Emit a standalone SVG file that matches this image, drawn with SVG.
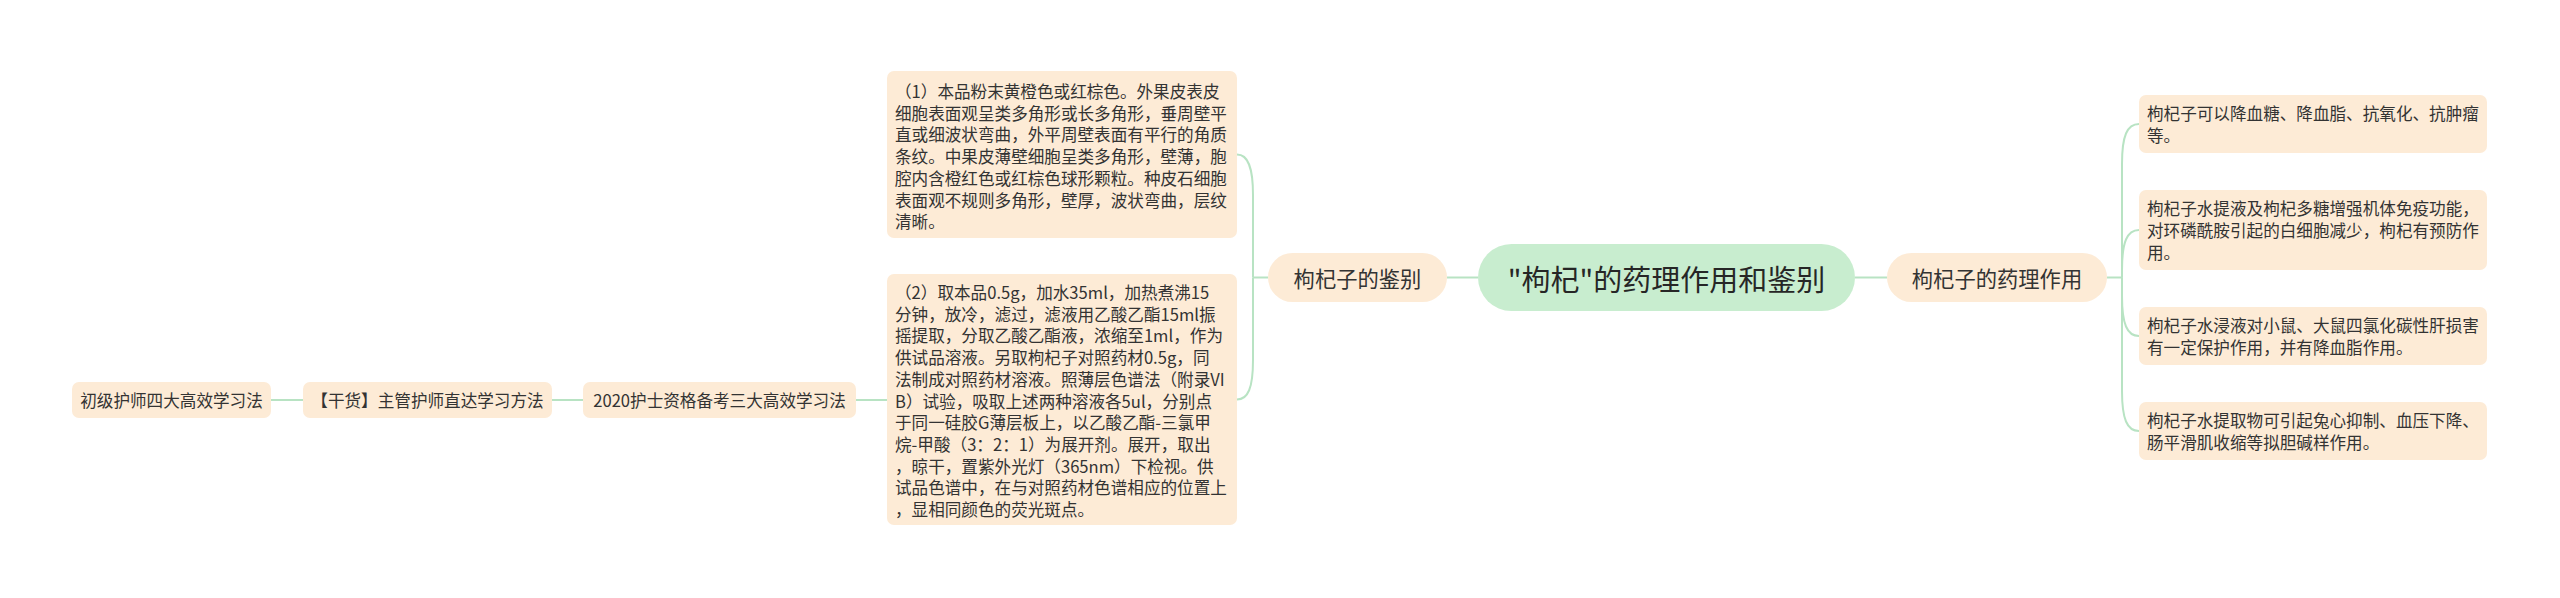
<svg xmlns="http://www.w3.org/2000/svg" width="2560" height="598" viewBox="0 0 2560 598">
<style>
.bg{fill:#ffffff}
.box{fill:#FDEBD6}
.root{fill:#C8EDCF}
.t{font-family:"Noto Sans CJK SC","Noto Sans",sans-serif;fill:#333333;dominant-baseline:central}
.s{font-size:16.6px}
.m{font-size:21.3px}
.r{font-size:29px;fill:#262626}
.c{text-anchor:middle}
.lnk{stroke:#B8E3C3;stroke-width:2;fill:none}
</style>
<rect class="bg" x="0" y="0" width="2560" height="598"/>
<g id="connectors">
<path class="lnk" d="M1447,277.5 L1478,277.5"/>
<path class="lnk" d="M1855,277.5 L1887,277.5"/>
<path class="lnk" d="M1268,277.5 L1253,277.5"/>
<path class="lnk" d="M1253,277.5 L1253,195 C1253,167 1248,154.5 1237,154.5"/>
<path class="lnk" d="M1253,277.5 L1253,360 C1253,388 1248,399.5 1237,399.5"/>
<path class="lnk" d="M2107,277.5 L2122,277.5"/>
<path class="lnk" d="M2122,277.5 L2122,164 C2122,136 2127,124 2139,124"/>
<path class="lnk" d="M2122,277.5 L2122,270 C2122,242 2127,230 2139,230"/>
<path class="lnk" d="M2122,277.5 L2122,296 C2122,324 2127,336 2139,336"/>
<path class="lnk" d="M2122,277.5 L2122,391 C2122,419 2127,431 2139,431"/>
<path class="lnk" d="M271,400 L303,400"/>
<path class="lnk" d="M552,400 L583,400"/>
<path class="lnk" d="M856,400 L887,400"/>
</g>
<g id="root">
<rect class="root" x="1478" y="244" width="377" height="67" rx="33.5"/>
<text class="t r c" x="1666.5" y="277.5">"枸杞"的药理作用和鉴别</text>
</g>
<g id="n-jianbie">
<rect class="box" x="1268" y="253" width="179" height="49" rx="24.5"/>
<text class="t m c" x="1357.5" y="277.5">枸杞子的鉴别</text>
</g>
<g id="n-zuoyong">
<rect class="box" x="1887" y="253" width="220" height="49" rx="24.5"/>
<text class="t m c" x="1997" y="277.5">枸杞子的药理作用</text>
</g>
<g id="n-jb1">
<rect class="box" x="887" y="71" width="350" height="167" rx="7"/>
<text class="t s" x="895" y="91">
<tspan x="895" y="91">（1）本品粉末黄橙色或红棕色。外果皮表皮</tspan>
<tspan x="895" y="112.7">细胞表面观呈类多角形或长多角形，垂周壁平</tspan>
<tspan x="895" y="134.4">直或细波状弯曲，外平周壁表面有平行的角质</tspan>
<tspan x="895" y="156.1">条纹。中果皮薄壁细胞呈类多角形，壁薄，胞</tspan>
<tspan x="895" y="177.8">腔内含橙红色或红棕色球形颗粒。种皮石细胞</tspan>
<tspan x="895" y="199.5">表面观不规则多角形，壁厚，波状弯曲，层纹</tspan>
<tspan x="895" y="221.2">清晰。</tspan>
</text>
</g>
<g id="n-jb2">
<rect class="box" x="887" y="274" width="350" height="251" rx="7"/>
<text class="t s" x="895" y="292">
<tspan x="895" y="292">（2）取本品0.5g，加水35ml，加热煮沸15</tspan>
<tspan x="895" y="313.7">分钟，放冷，滤过，滤液用乙酸乙酯15ml振</tspan>
<tspan x="895" y="335.4">摇提取，分取乙酸乙酯液，浓缩至1ml，作为</tspan>
<tspan x="895" y="357.1">供试品溶液。另取枸杞子对照药材0.5g，同</tspan>
<tspan x="895" y="378.8">法制成对照药材溶液。照薄层色谱法（附录VI</tspan>
<tspan x="895" y="400.5">B）试验，吸取上述两种溶液各5ul，分别点</tspan>
<tspan x="895" y="422.2">于同一硅胶G薄层板上，以乙酸乙酯-三氯甲</tspan>
<tspan x="895" y="443.9">烷-甲酸（3：2：1）为展开剂。展开，取出</tspan>
<tspan x="895" y="465.6">，晾干，置紫外光灯（365nm）下检视。供</tspan>
<tspan x="895" y="487.3">试品色谱中，在与对照药材色谱相应的位置上</tspan>
<tspan x="895" y="509">，显相同颜色的荧光斑点。</tspan>
</text>
</g>
<g id="n-zy1">
<rect class="box" x="2139" y="95" width="348" height="58" rx="7"/>
<text class="t s">
<tspan x="2147" y="113.15">枸杞子可以降血糖、降血脂、抗氧化、抗肿瘤</tspan>
<tspan x="2147" y="134.85">等。</tspan>
</text>
</g>
<g id="n-zy2">
<rect class="box" x="2139" y="190" width="348" height="80" rx="7"/>
<text class="t s">
<tspan x="2147" y="208.3">枸杞子水提液及枸杞多糖增强机体免疫功能，</tspan>
<tspan x="2147" y="230">对环磷酰胺引起的白细胞减少，枸杞有预防作</tspan>
<tspan x="2147" y="251.7">用。</tspan>
</text>
</g>
<g id="n-zy3">
<rect class="box" x="2139" y="307" width="348" height="58" rx="7"/>
<text class="t s">
<tspan x="2147" y="325.15">枸杞子水浸液对小鼠、大鼠四氯化碳性肝损害</tspan>
<tspan x="2147" y="346.85">有一定保护作用，并有降血脂作用。</tspan>
</text>
</g>
<g id="n-zy4">
<rect class="box" x="2139" y="402" width="348" height="58" rx="7"/>
<text class="t s">
<tspan x="2147" y="420.15">枸杞子水提取物可引起兔心抑制、血压下降、</tspan>
<tspan x="2147" y="441.85">肠平滑肌收缩等拟胆碱样作用。</tspan>
</text>
</g>
<g id="n-link3">
<rect class="box" x="583" y="382" width="273" height="36" rx="7"/>
<text class="t s c" x="719.5" y="400">2020护士资格备考三大高效学习法</text>
</g>
<g id="n-link2">
<rect class="box" x="303" y="382" width="249" height="36" rx="7"/>
<text class="t s c" x="427.5" y="400">【干货】主管护师直达学习方法</text>
</g>
<g id="n-link1">
<rect class="box" x="72" y="382" width="199" height="36" rx="7"/>
<text class="t s c" x="171.5" y="400">初级护师四大高效学习法</text>
</g>
</svg>
